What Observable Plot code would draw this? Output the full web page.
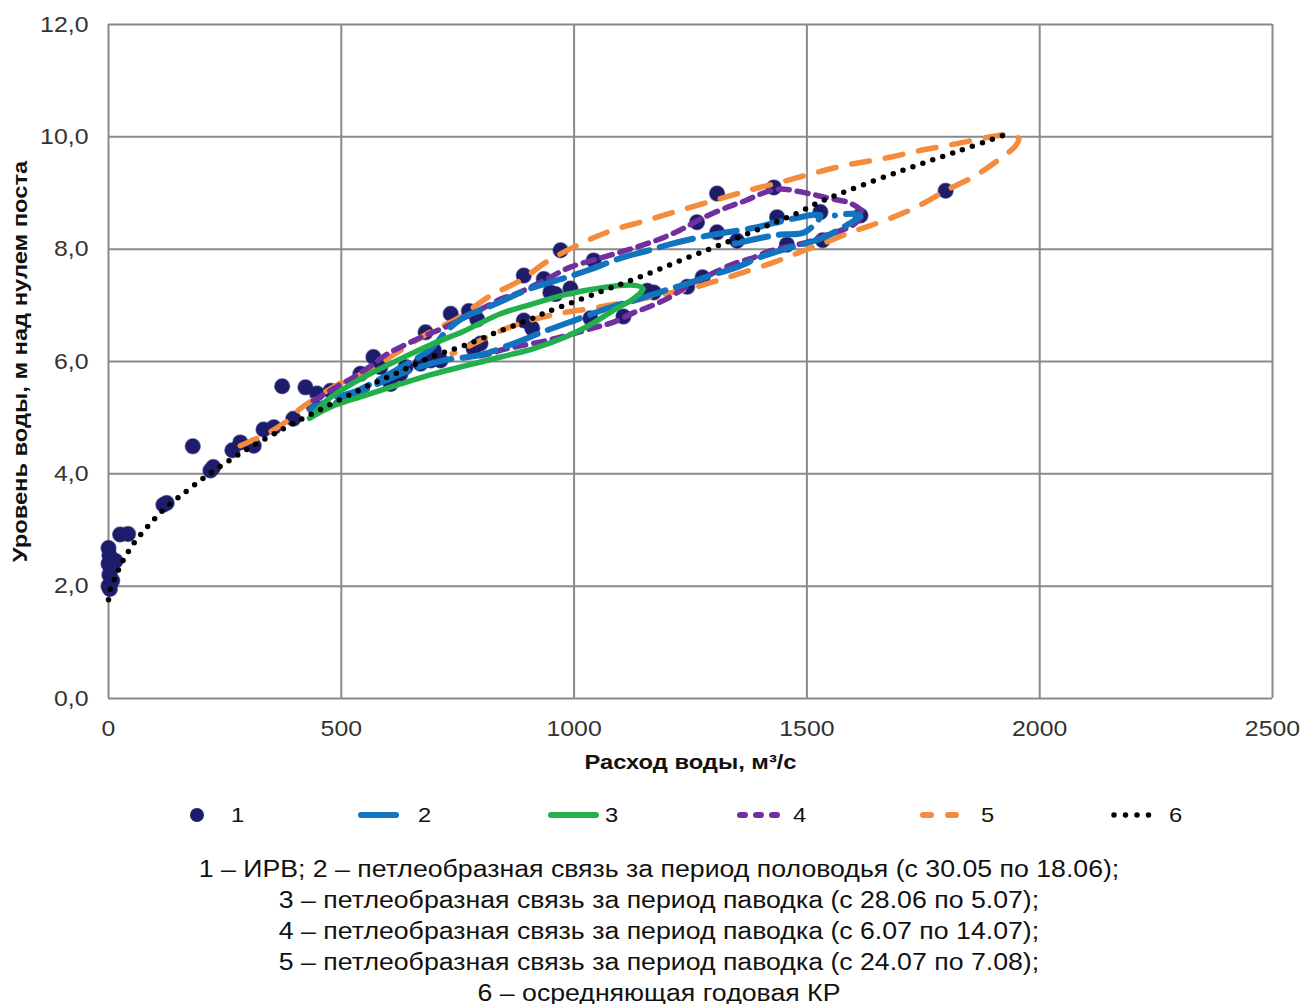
<!DOCTYPE html>
<html><head><meta charset="utf-8">
<script src="https://cdn.jsdelivr.net/npm/d3@7"></script>
<script src="https://cdn.jsdelivr.net/npm/@observablehq/plot@0.6"></script>
<style>
body{margin:0;background:#fff;font-family:'Liberation Sans',Arial,sans-serif;}
#legend{width:1301px;height:64px;}
.cap{margin-left:17px;width:1284px;text-align:center;font-size:23px;line-height:31px;color:#111;}
.cap div{transform:scaleX(1.16);white-space:nowrap;}
</style></head>
<body>
<div id="chart"></div>
<div id="legend"></div>
<div class="cap">
<div>1 – ИРВ; 2 – петлеобразная связь за период половодья (с 30.05 по 18.06);</div>
<div>3 – петлеобразная связь за период паводка (с 28.06 по 5.07);</div>
<div>4 – петлеобразная связь за период паводка (с 6.07 по 14.07);</div>
<div>5 – петлеобразная связь за период паводка (с 24.07 по 7.08);</div>
<div>6 – осредняющая годовая КР</div>
</div>
<script>
// ---- data ----
const xTicks = [0, 500, 1000, 1500, 2000, 2500];
const yTicks = [0, 2, 4, 6, 8, 10, 12];
const xLabel = "Расход воды, м³/с";
const yLabel = "Уровень воды, м над нулем поста";
const legendLabels = ["1", "2", "3", "4", "5", "6"];

// 1 – ИРВ (measured points)
const s1Q = [0,2,0,5,2,8,0,3,15,25,42,118,125,181,219,225,266,283,312,333,355,373,397,423,441,448,477,541,569,584,606,627,638,670,681,692,699,713,735,774,792,784,799,892,935,971,960,992,949,1042,892,910,1035,1106,1157,1171,1243,1276,1264,1307,1307,1350,1429,1436,1457,1529,1534,1615,1798];
const s1H = [2.68,2.55,2.4,2.3,2.2,2.1,2.0,1.95,2.45,2.92,2.93,3.45,3.48,4.49,4.06,4.12,4.42,4.56,4.5,4.79,4.83,5.56,4.98,5.54,5.2,5.43,5.48,5.78,6.08,5.9,5.6,5.78,5.9,5.96,6.52,6.02,6.2,6.02,6.85,6.9,6.75,6.23,6.32,7.53,7.47,7.98,7.2,7.3,7.23,7.8,6.73,6.59,6.77,6.8,7.26,7.23,7.33,7.5,8.48,8.99,8.3,8.15,9.1,8.57,8.08,8.66,8.16,8.6,9.04];

// 2 – половодье (30.05–18.06)
const s2Q = [1345,1400,1443,1495,1529,1436,1393,1329,1286,1207,1157,1100,1028,985,903,878,799,770,727,692,641,577,534,491,434,470,520,600,660,720,800,870,940,1010,1080,1130,1190,1240,1300,1350,1400,1465,1533,1590,1615,1600,1560];
const s2H = [8.1,8.2,8.26,8.3,8.6,8.48,8.39,8.3,8.24,8.09,7.97,7.84,7.62,7.5,7.29,7.2,6.91,6.82,6.55,6.22,5.96,5.66,5.48,5.36,5.15,5.2,5.38,5.68,5.88,6.02,6.12,6.32,6.55,6.76,6.97,7.09,7.25,7.38,7.55,7.68,7.86,8.03,8.2,8.45,8.6,8.63,8.6];

// 3 – паводок (28.06–5.07)
const s3Q = [432,477,548,620,692,763,842,913,985,1057,1125,1148,1128,1092,1040,985,913,842,770,699,627,548,477,432];
const s3H = [4.99,5.36,5.72,6.02,6.3,6.54,6.85,7.03,7.2,7.31,7.36,7.3,7.12,6.95,6.68,6.45,6.23,6.08,5.93,5.78,5.6,5.39,5.19,4.99];

// 4 – паводок (6.07–14.07)
const s4Q = [440,480,526,560,598,638,677,720,760,800,845,874,935,992,1060,1108,1150,1190,1230,1270,1330,1370,1400,1440,1480,1520,1551,1586,1608,1620,1615,1597,1572,1529,1500,1450,1415,1379,1343,1293,1250,1200,1157,1128,1085,1042,992,940,880,842,820,799];
const s4H = [5.3,5.5,5.72,5.9,6.13,6.3,6.45,6.6,6.76,6.93,7.12,7.2,7.44,7.68,7.85,7.97,8.08,8.2,8.35,8.53,8.75,8.87,8.98,9.07,9.03,8.96,8.9,8.84,8.75,8.65,8.55,8.42,8.33,8.21,8.12,8.03,7.95,7.83,7.74,7.55,7.38,7.12,6.96,6.87,6.7,6.6,6.48,6.37,6.27,6.2,6.14,6.1];

// 5 – паводок (24.07–7.08)
const s5Q = [283,316,352,380,412,437,490,560,620,686,750,820,884,942,1012,1080,1155,1227,1302,1372,1447,1518,1593,1668,1740,1817,1895,1935,1955,1948,1910,1860,1800,1762,1712,1640,1600,1540,1486,1430,1357,1300,1250,1178,1120,1040,965,892,824,754,738];
const s5H = [4.5,4.62,4.77,4.92,5.16,5.3,5.58,5.84,6.16,6.5,6.77,7.17,7.44,7.78,8.09,8.33,8.51,8.69,8.87,9.04,9.2,9.36,9.51,9.62,9.75,9.87,10.0,10.04,9.97,9.84,9.58,9.3,9.05,8.87,8.66,8.43,8.32,8.12,7.95,7.77,7.57,7.42,7.3,7.17,7.07,6.95,6.85,6.7,6.48,6.19,6.14];

// 6 – осредняющая годовая КР
const s6Q = [0,4,13,29,54,85,118,155,212,290,375,437,502,566,631,699,763,834,899,942,1053,1143,1232,1321,1407,1476,1536,1694,1830,1920];
const s6H = [1.76,1.94,2.13,2.42,2.76,3.07,3.36,3.61,3.97,4.4,4.8,5.07,5.34,5.6,5.84,6.1,6.28,6.52,6.73,6.88,7.23,7.51,7.81,8.1,8.39,8.63,8.87,9.37,9.76,10.02];

// ---- styles ----
const C = {p:"#1d1d6b", b:"#1273bf", g:"#21b04b", v:"#7030a0", o:"#f58b3c", k:"#000"};
const font = "'Liberation Sans',Arial,sans-serif";
const stretch = 1.13;
const toRows = (Q, H) => Q.map((q, i) => ({q, h: H[i]}));

const chart = Plot.plot({
  width: 1301, height: 790,
  marginLeft: 108, marginRight: 29, marginTop: 24, marginBottom: 92,
  style: {fontFamily: font, fontSize: "22px", color: "#333", background: "#fff", overflow: "visible"},
  x: {domain: [0, 2500], ticks: xTicks, tickFormat: d => String(d), tickSize: 0, tickPadding: 22, label: null},
  y: {domain: [0, 12], ticks: yTicks, tickFormat: d => d.toFixed(1).replace(".", ","), tickSize: 0, tickPadding: 20, label: null},
  marks: [
    Plot.gridX(xTicks, {stroke: "#8a8a8a", strokeOpacity: 1, strokeWidth: 2}),
    Plot.gridY(yTicks, {stroke: "#8a8a8a", strokeOpacity: 1, strokeWidth: 2}),
    Plot.dot(toRows(s1Q, s1H), {x: "q", y: "h", r: 7.5, fill: C.p, stroke: C.p, strokeOpacity: 0.5, strokeWidth: 1.5}),
    Plot.line(toRows(s5Q, s5H), {x: "q", y: "h", curve: "catmull-rom", stroke: C.o, strokeWidth: 5.5, strokeDasharray: "18,16"}),
    Plot.line(toRows(s4Q, s4H), {x: "q", y: "h", curve: "catmull-rom", stroke: C.v, strokeWidth: 5.5, strokeDasharray: "11,8"}),
    Plot.line(toRows(s2Q, s2H), {x: "q", y: "h", curve: "catmull-rom", stroke: C.b, strokeWidth: 6, strokeDasharray: "34,11"}),
    Plot.line(toRows(s3Q, s3H), {x: "q", y: "h", curve: "catmull-rom", stroke: C.g, strokeWidth: 5.5}),
    Plot.line(toRows(s6Q, s6H), {x: "q", y: "h", curve: "catmull-rom", stroke: C.k, strokeWidth: 5.5, strokeDasharray: "0,10.5", strokeLinecap: "round"}),
    Plot.text([xLabel], {text: d => d, frameAnchor: "bottom", dy: 70, fontWeight: "bold", fontSize: 21, fill: "#111"}),
    Plot.text([yLabel], {text: d => d, frameAnchor: "left", textAnchor: "middle", dx: -88, rotate: -90, fontWeight: "bold", fontSize: 21, fill: "#111"})
  ]
});
// widen the glyphs horizontally, around each text's own anchor point
chart.querySelectorAll("text").forEach(t => {
  const xa = t.getAttribute("x");
  if (xa && parseFloat(xa) !== 0) return;
  const tr = t.getAttribute("transform");
  t.setAttribute("transform", (tr ? tr + " " : "") + `scale(${stretch},1)`);
});
document.getElementById("chart").appendChild(chart);

// ---- legend ----
const ns = "http://www.w3.org/2000/svg";
const lg = document.createElementNS(ns, "svg");
lg.setAttribute("width", 1301); lg.setAttribute("height", 64);
const cy = 25;
function el(tag, attrs) { const e = document.createElementNS(ns, tag); for (const k in attrs) e.setAttribute(k, attrs[k]); lg.appendChild(e); return e; }
function label(x, t) { const e = el("text", {x: 0, y: 0, transform: `translate(${x},${cy}) scale(${stretch},1)`, "dominant-baseline": "central", "font-size": 21, fill: "#111", "font-family": font}); e.textContent = t; }
el("circle", {cx: 197, cy, r: 7, fill: C.p});
label(231, legendLabels[0]);
el("line", {x1: 361, x2: 396, y1: cy, y2: cy, stroke: C.b, "stroke-width": 6, "stroke-linecap": "round"});
label(418, legendLabels[1]);
el("line", {x1: 551, x2: 596, y1: cy, y2: cy, stroke: C.g, "stroke-width": 6, "stroke-linecap": "round"});
label(605, legendLabels[2]);
el("line", {x1: 740, x2: 777, y1: cy, y2: cy, stroke: C.v, "stroke-width": 6, "stroke-linecap": "round", "stroke-dasharray": "5,11"});
label(793, legendLabels[3]);
el("line", {x1: 923, x2: 931, y1: cy, y2: cy, stroke: C.o, "stroke-width": 6, "stroke-linecap": "round"});
el("line", {x1: 948, x2: 956, y1: cy, y2: cy, stroke: C.o, "stroke-width": 6, "stroke-linecap": "round"});
label(981, legendLabels[4]);
el("line", {x1: 1114, x2: 1160, y1: cy, y2: cy, stroke: C.k, "stroke-width": 5.5, "stroke-linecap": "round", "stroke-dasharray": "0,11.5"});
label(1169, legendLabels[5]);
document.getElementById("legend").appendChild(lg);
</script>
</body></html>
